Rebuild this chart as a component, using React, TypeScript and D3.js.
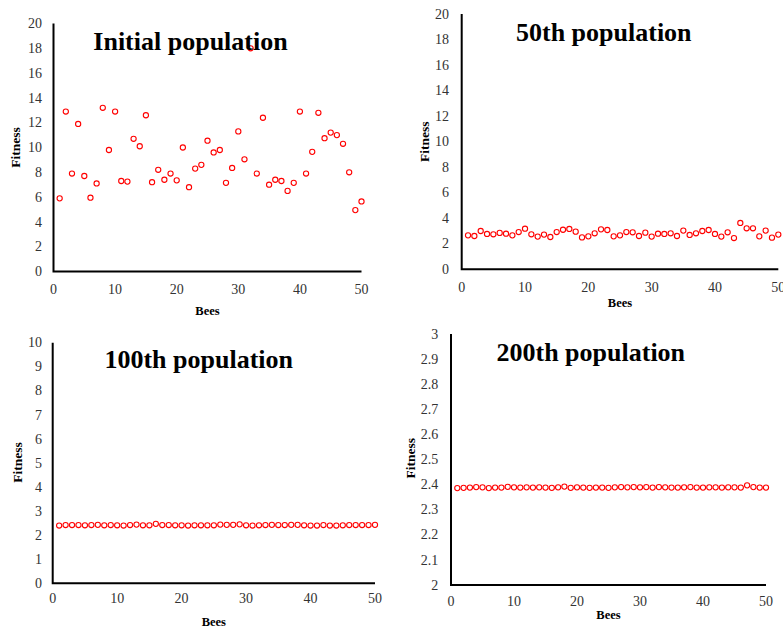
import React from 'react';
import { scaleLinear, range, format } from 'd3';

const width = 783;
const height = 630;

// bee index 1..50 for every population
const bees = range(1, 51);

const initialFitness = [
    5.9, 12.9, 7.9, 11.9, 7.7, 5.95, 7.1, 13.2, 9.8, 12.9,
    7.3, 7.25, 10.7, 10.1, 12.6, 7.2, 8.2, 7.4, 7.9, 7.35,
    10.0, 6.8, 8.3, 8.6, 10.55, 9.6, 9.8, 7.15, 8.35, 11.3,
    9.05, 18.0, 7.9, 12.4, 7.0, 7.4, 7.3, 6.5, 7.15, 12.9,
    7.9, 9.65, 12.8, 10.75, 11.2, 11.0, 10.3, 8.0, 4.95, 5.65
];

const fitness50 = [
    2.66, 2.61, 3.0, 2.77, 2.74, 2.85, 2.79, 2.66, 2.92, 3.18,
    2.74, 2.56, 2.72, 2.53, 2.92, 3.1, 3.16, 2.95, 2.5, 2.58,
    2.82, 3.13, 3.08, 2.58, 2.66, 2.92, 2.9, 2.61, 2.87, 2.56,
    2.79, 2.77, 2.82, 2.61, 3.03, 2.69, 2.82, 3.0, 3.08, 2.77,
    2.56, 2.9, 2.45, 3.63, 3.21, 3.21, 2.58, 3.03, 2.48, 2.72
];

const fitness100 = [
    2.40, 2.42, 2.42, 2.42, 2.41, 2.42, 2.43, 2.41, 2.42, 2.41,
    2.40, 2.42, 2.44, 2.41, 2.41, 2.47, 2.42, 2.42, 2.41, 2.41,
    2.40, 2.41, 2.41, 2.41, 2.41, 2.44, 2.43, 2.43, 2.45, 2.41,
    2.40, 2.41, 2.42, 2.43, 2.42, 2.42, 2.43, 2.43, 2.41, 2.40,
    2.40, 2.42, 2.40, 2.40, 2.41, 2.42, 2.42, 2.42, 2.42, 2.43
];

const fitness200 = [
    2.386, 2.387, 2.388, 2.390, 2.389, 2.386, 2.388, 2.388, 2.391, 2.389,
    2.388, 2.389, 2.388, 2.389, 2.388, 2.387, 2.389, 2.392, 2.387, 2.389,
    2.388, 2.387, 2.388, 2.388, 2.387, 2.389, 2.390, 2.389, 2.390, 2.389,
    2.390, 2.388, 2.390, 2.389, 2.388, 2.388, 2.389, 2.390, 2.388, 2.388,
    2.389, 2.389, 2.388, 2.389, 2.389, 2.388, 2.397, 2.390, 2.388, 2.388
];

const titles = ['Initial population', '50th population', '100th population', '200th population'];
const yDomains = [[0, 20], [0, 20], [0, 10], [2, 3]];
const xDomain = [0, 50];

// layout of each panel (pixels)
const panels = [
    { values: initialFitness, x0: 53.5, x1: 361.5, yTop: 23.5, yBot: 271.5, labelRight: 42, xLabelY: 294, beesY: 315, fitX: 15, fitY: 147.5, titleX: 190.5, titleY: 50 },
    { values: fitness50, x0: 461.7, x1: 778.3, yTop: 14, yBot: 269.3, labelRight: 449, xLabelY: 292, beesY: 307, fitX: 424.3, fitY: 141.7, titleX: 603.8, titleY: 40.7 },
    { values: fitness100, x0: 52.7, x1: 375, yTop: 342.7, yBot: 583.3, labelRight: 42, xLabelY: 603, beesY: 626, fitX: 17.3, fitY: 462.5, titleX: 198.7, titleY: 368.3 },
    { values: fitness200, x0: 451, x1: 766, yTop: 334, yBot: 585, labelRight: 438.3, xLabelY: 606, beesY: 618.5, fitX: 410.7, fitY: 458.3, titleX: 590.8, titleY: 360.7 },
];

const serif = '"Liberation Serif", "Times New Roman", serif';
const fmt = format('~g');

function Panel({ p, idx }) {
    const x = scaleLinear().domain(xDomain).range([p.x0, p.x1]);
    const y = scaleLinear().domain(yDomains[idx]).range([p.yBot, p.yTop]);

    return (
        <g>
            {y.ticks(10).map(t => (
                <text key={'y' + t} x={p.labelRight} y={y(t)} dy="0.33em" textAnchor="end"
                    fontSize={14} fontFamily={serif} fill="#333">{fmt(t)}</text>
            ))}
            {x.ticks(5).map(t => (
                <text key={'x' + t} x={x(t)} y={p.xLabelY} textAnchor="middle"
                    fontSize={14} fontFamily={serif} fill="#333">{fmt(t)}</text>
            ))}
            <path d={`M${p.x0},${p.yTop}V${p.yBot}H${p.x1}`} fill="none" stroke="#000" strokeWidth={2} />
            {bees.map((b, i) => (
                <circle key={b} cx={x(b)} cy={y(p.values[i])} r={2.6}
                    fill="#fff" stroke="#ff0000" strokeWidth={1.1} />
            ))}
            <text x={(p.x0 + p.x1) / 2} y={p.beesY} textAnchor="middle" fontSize={12.5}
                fontWeight="bold" fontFamily={serif}>Bees</text>
            <text transform={`translate(${p.fitX},${p.fitY}) rotate(-90)`} dy="0.35em" textAnchor="middle"
                fontSize={13.5} fontWeight="bold" fontFamily={serif}>Fitness</text>
            <text x={p.titleX} y={p.titleY} textAnchor="middle" fontSize={26}
                fontWeight="bold" fontFamily={serif}>{titles[idx]}</text>
        </g>
    );
}

export default function App() {
    return (
        <svg width={width} height={height} style={{ position: 'absolute', left: 0, top: 0, background: '#fff' }}>
            {panels.map((p, i) => <Panel key={i} p={p} idx={i} />)}
        </svg>
    );
}
